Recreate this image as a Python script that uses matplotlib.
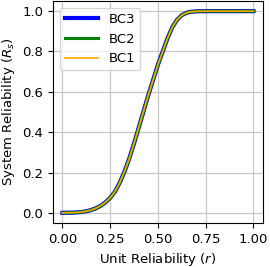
import matplotlib
matplotlib.use("Agg")
import matplotlib.pyplot as plt

# values
r = [0.0, 0.05, 0.1, 0.125, 0.15, 0.175, 0.2, 0.225, 0.25, 0.275, 0.3, 0.325,
     0.35, 0.375, 0.4, 0.425, 0.45, 0.475, 0.5, 0.525, 0.55, 0.575, 0.6,
     0.625, 0.65, 0.675, 0.7, 0.725, 0.75, 0.8, 0.9, 1.0]
rs = [0.0, 0.001, 0.004, 0.008, 0.014, 0.023, 0.035, 0.052, 0.075, 0.105, 0.15,
      0.205, 0.27, 0.345, 0.425, 0.505, 0.585, 0.66, 0.735, 0.80, 0.865, 0.92,
      0.957, 0.98, 0.992, 0.997, 0.999, 1.0, 1.0, 1.0, 1.0, 1.0]
bc3 = rs
bc2 = rs
bc1 = rs

plt.rcParams['font.size'] = 9.5

fig = plt.figure(figsize=(2.7, 2.67), dpi=100)
ax = fig.add_axes([0.196, 0.165, 0.778, 0.831])
ax.plot(r, bc3, color='blue', lw=3.0, label='BC3')
ax.plot(r, bc2, color='green', lw=2.2, label='BC2')
ax.plot(r, bc1, color='orange', lw=1.2, label='BC1')
ax.set_xticks([0.0, 0.25, 0.5, 0.75, 1.0])
ax.set_yticks([0.0, 0.2, 0.4, 0.6, 0.8, 1.0])
ax.grid(True, color='#c8c8c8', lw=0.9)
ax.set_xlabel('Unit Reliability ($r$)')
ax.set_ylabel('System Reliability ($R_s$)')
ax.legend(loc='upper left', handlelength=2.5)

fig.savefig('out.png', dpi=100)
